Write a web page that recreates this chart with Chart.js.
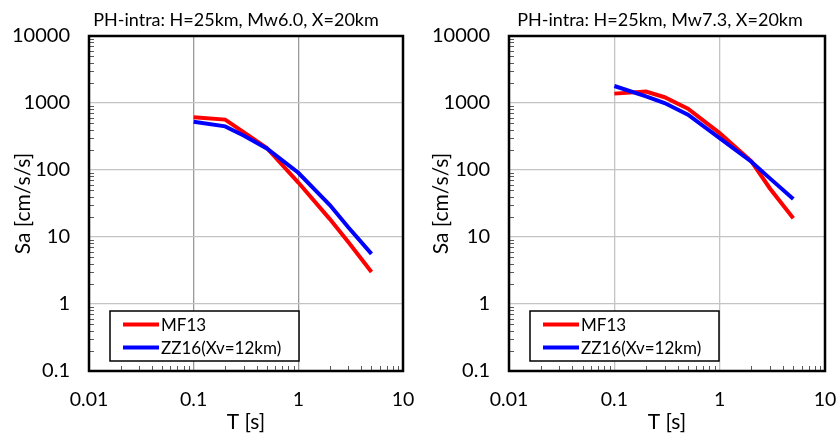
<!DOCTYPE html>
<html><head><meta charset="utf-8">
<script src="https://cdn.jsdelivr.net/npm/chart.js@4/dist/chart.umd.min.js"></script>
<style>
html,body{margin:0;padding:0;background:#fff;}
#wrap{position:relative;width:837px;height:433px;overflow:hidden;}
.box{position:absolute;top:0;height:433px;}
#b1{left:0;width:418px;}
#b2{left:418px;width:419px;}
</style></head><body>
<div id="wrap">
  <div class="box" id="b1"><canvas id="c1"></canvas></div>
  <div class="box" id="b2"><canvas id="c2"></canvas></div>
</div>
<script>
// ---- data ----
const periods = [0.1, 0.2, 0.3, 0.5, 1, 2, 3, 5];
const mf13Mw60 = [615, 565, 368, 213, 65, 18.5, 8.4, 3.0];
const zz16Mw60 = [525, 448, 328, 210, 91, 30, 14, 5.6];
const mf13Mw73 = [1380, 1480, 1220, 825, 355, 135, 53, 19];
const zz16Mw73 = [1795, 1260, 1000, 670, 298, 133, 75, 37];
const chartTitles = ['PH-intra: H=25km, Mw6.0, X=20km', 'PH-intra: H=25km, Mw7.3, X=20km'];
const seriesNames = ['MF13', 'ZZ16(Xv=12km)'];
const xTickValues = [0.01, 0.1, 1, 10];
const xTickLabels = ['0.01', '0.1', '1', '10'];
const yTickValues = [0.1, 1, 10, 100, 1000, 10000];
const yTickLabels = ['0.1', '1', '10', '100', '1000', '10000'];
const xAxisTitle = 'T [s]';
const yAxisTitle = 'Sa [cm/s/s]';

// ---- helpers ----
const FONT = 'Lato, "Open Sans", sans-serif';
function withMinors(decades) {
  const out = [];
  for (let i = 0; i < decades.length; i++) {
    out.push(decades[i]);
    if (i < decades.length - 1) for (let k = 2; k <= 9; k++) out.push(+(decades[i] * k).toPrecision(6));
  }
  return out;
}
const isDecade = (arr, v) => arr.some(d => Math.abs(Math.log10(v) - Math.log10(d)) < 1e-6);
const labelFor = (vals, labs, v) => { const i = vals.findIndex(d => Math.abs(Math.log10(v) - Math.log10(d)) < 1e-6); return i >= 0 ? labs[i] : ''; };

const framePlugin = {
  id: 'frame',
  afterDatasetsDraw(chart) {
    const {ctx, chartArea: a, scales} = chart;
    const o = chart.options.plugins.frame;
    ctx.save();
    // minor inner ticks
    ctx.strokeStyle = '#595959'; ctx.lineWidth = 1;
    ctx.beginPath();
    withMinors(xTickValues).forEach(v => {
      if (isDecade(xTickValues, v)) return;
      const px = Math.round(scales.x.getPixelForValue(v)) + 0.5;
      ctx.moveTo(px, a.bottom); ctx.lineTo(px, a.bottom - 5);
    });
    withMinors(yTickValues).forEach(v => {
      if (isDecade(yTickValues, v)) return;
      const py = Math.round(scales.y.getPixelForValue(v)) + 0.5;
      ctx.moveTo(a.left, py); ctx.lineTo(a.left + 5, py);
    });
    ctx.stroke();
    // frame
    ctx.strokeStyle = '#000'; ctx.lineWidth = 2.5;
    ctx.strokeRect(a.left, a.top, a.right - a.left, a.bottom - a.top);
    // title
    ctx.fillStyle = '#000'; ctx.font = '18px ' + FONT; ctx.textAlign = 'center'; ctx.textBaseline = 'middle';
    ctx.fillText(o.title, o.titleX, 20);
    // legend box
    const lx = a.left + 21, lw = 189, lh = 50, ly = a.bottom - 10 - lh;
    ctx.fillStyle = '#fff';
    ctx.fillRect(lx, ly, lw, lh);
    ctx.strokeStyle = '#000'; ctx.lineWidth = 1.5;
    ctx.strokeRect(lx, ly, lw, lh);
    const rows = [13.5, 36.5];
    chart.data.datasets.forEach((ds, i) => {
      const y = ly + rows[i];
      ctx.strokeStyle = ds.borderColor; ctx.lineWidth = 4; ctx.lineCap = 'butt';
      ctx.beginPath(); ctx.moveTo(lx + 13, y); ctx.lineTo(lx + 49, y); ctx.stroke();
      ctx.fillStyle = '#000'; ctx.font = '17px ' + FONT; ctx.textBaseline = 'middle'; ctx.textAlign = 'left';
      ctx.fillText(ds.label, lx + 51, y + 1);
    });
    ctx.restore();
  }
};

function makeChart(id, title, titleX, redData, blueData, yWidth, rightPad, vGrid) {
  return new Chart(document.getElementById(id), {
    type: 'line',
    data: {
      datasets: [
        { label: seriesNames[0], data: periods.map((t, i) => ({x: t, y: redData[i]})), borderColor: '#ff0000', backgroundColor: '#ff0000', borderWidth: 4, pointRadius: 0, tension: 0, fill: false, order: 1 },
        { label: seriesNames[1], data: periods.map((t, i) => ({x: t, y: blueData[i]})), borderColor: '#0000ff', backgroundColor: '#0000ff', borderWidth: 4, pointRadius: 0, tension: 0, fill: false, order: 0 }
      ]
    },
    options: {
      responsive: true, maintainAspectRatio: false, animation: false,
      layout: { padding: { left: 0, right: rightPad, top: 36, bottom: 0 } },
      plugins: {
        legend: { display: false }, tooltip: { enabled: false }, title: { display: false },
        frame: { title: title, titleX: titleX }
      },
      scales: {
        x: {
          type: 'logarithmic', min: 0.01, max: 10,
          afterBuildTicks: s => { s.ticks = withMinors(xTickValues).map(v => ({value: v})); },
          afterFit: s => { s.height = 62; s.paddingLeft = 0; s.paddingRight = 0; },
          ticks: { autoSkip: false, maxRotation: 0, minRotation: 0, padding: 17, color: '#000', font: { family: FONT, size: 19.5 },
                   callback: v => labelFor(xTickValues, xTickLabels, v) },
          grid: { drawTicks: false, lineWidth: 1.3, color: c => (c.tick && isDecade(xTickValues, c.tick.value)) ? vGrid : 'rgba(0,0,0,0)' },
          border: { display: false },
          title: { display: true, text: xAxisTitle, color: '#000', font: { family: FONT, size: 21, lineHeight: 1 }, padding: { top: 1, bottom: 0 } }
        },
        y: {
          type: 'logarithmic', min: 0.1, max: 10000,
          afterBuildTicks: s => { s.ticks = withMinors(yTickValues).map(v => ({value: v})); },
          afterFit: s => { s.width = yWidth; s.paddingTop = 0; s.paddingBottom = 0; },
          ticks: { autoSkip: false, padding: 19, color: '#000', font: { family: FONT, size: 20 },
                   callback: v => labelFor(yTickValues, yTickLabels, v) },
          grid: { drawTicks: false, lineWidth: 1.3, color: c => (c.tick && isDecade(yTickValues, c.tick.value)) ? '#c4c4c4' : 'rgba(0,0,0,0)' },
          border: { display: false },
          title: { display: true, text: yAxisTitle, color: '#000', font: { family: FONT, size: 21, lineHeight: 1 }, padding: { top: 13, bottom: 0 } }
        }
      }
    },
    plugins: [framePlugin]
  });
}

makeChart('c1', chartTitles[0], 236, mf13Mw60, zz16Mw60, 89, 15, '#9a9a9a');
makeChart('c2', chartTitles[1], 242, mf13Mw73, zz16Mw73, 91, 12, '#c4c4c4');
</script>
</body></html>
